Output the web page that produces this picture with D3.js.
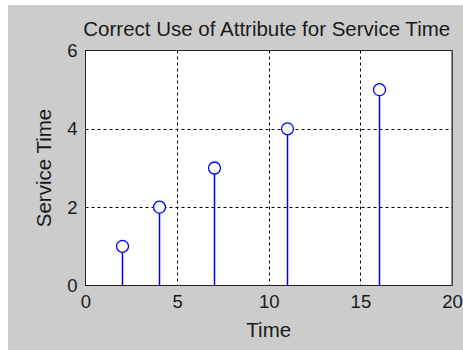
<!DOCTYPE html>
<html>
<head>
<meta charset="utf-8">
<script src="https://cdn.jsdelivr.net/npm/d3@7"></script>
<style>
  html, body { margin: 0; padding: 0; background: #ffffff; }
  svg { display: block; }
  text { font-family: Arial, "Liberation Sans", sans-serif; fill: #1a1a1a; }
</style>
</head>
<body>
<svg id="chart" width="463" height="350"></svg>
<script>
// Stem plot data: service time recorded at each time point
const times = [2, 4, 7, 11, 16];
const serviceTimes = [1, 2, 3, 4, 5];
const xTicks = [0, 5, 10, 15, 20];
const yTicks = [0, 2, 4, 6];
const titleText = "Correct Use of Attribute for Service Time";
const xLabel = "Time";
const yLabel = "Service Time";

const svg = d3.select("#chart");
const FONT = "Arial, 'Liberation Sans', sans-serif";

// figure background
svg.append("rect")
  .attr("x", 8).attr("y", 5)
  .attr("width", 455).attr("height", 345)
  .attr("fill", "#cccccc");

const plot = { left: 85.5, right: 452, top: 50.5, bottom: 285.5 };

const x = d3.scaleLinear().domain([0, 20]).range([plot.left, plot.right]);
const y = d3.scaleLinear().domain([0, 6]).range([plot.bottom, plot.top]);

// axes area
svg.append("rect")
  .attr("x", plot.left).attr("y", plot.top)
  .attr("width", plot.right - plot.left).attr("height", plot.bottom - plot.top)
  .attr("fill", "#ffffff");

// dashed grid
const grid = svg.append("g")
  .attr("stroke", "#000")
  .attr("stroke-width", 1)
  .attr("stroke-dasharray", "3,3");
grid.selectAll(".gx").data(xTicks.slice(1, -1)).join("line")
  .attr("x1", d => Math.round(x(d)) + 0.5).attr("x2", d => Math.round(x(d)) + 0.5)
  .attr("y1", plot.top).attr("y2", plot.bottom);
grid.selectAll(".gy").data(yTicks.slice(1, -1)).join("line")
  .attr("y1", d => Math.round(y(d)) + 0.5).attr("y2", d => Math.round(y(d)) + 0.5)
  .attr("x1", plot.left).attr("x2", plot.right);

// stems and markers
const stems = svg.append("g");
const pts = times.map((t, i) => ({ t, v: serviceTimes[i] }));
stems.selectAll("line").data(pts).join("line")
  .attr("x1", d => Math.round(x(d.t)) + 0.5).attr("x2", d => Math.round(x(d.t)) + 0.5)
  .attr("y1", y(0)).attr("y2", d => y(d.v) + 6)
  .attr("stroke", "#0000ff").attr("stroke-width", 1.5);
stems.selectAll("circle").data(pts).join("circle")
  .attr("cx", d => Math.round(x(d.t)) + 0.5).attr("cy", d => y(d.v))
  .attr("r", 6)
  .attr("fill", "#ffffff")
  .attr("stroke", "#0000ff").attr("stroke-width", 1.3);

// axes: labels only, the box and grid supply the rest
const xAxis = d3.axisBottom(x).tickValues(xTicks).tickSize(0).tickPadding(9).tickFormat(d3.format("d"));
const yAxis = d3.axisLeft(y).tickValues(yTicks).tickSize(0).tickPadding(8).tickFormat(d3.format("d"));

const gx = svg.append("g").attr("transform", `translate(0,${plot.bottom})`).call(xAxis);
gx.select(".domain").remove();
gx.selectAll("text").attr("font-size", 18.5).attr("fill", "#1a1a1a").attr("font-family", FONT);

const gy = svg.append("g").attr("transform", `translate(${plot.left},0)`).call(yAxis);
gy.select(".domain").remove();
gy.selectAll("text").attr("font-size", 18.5).attr("fill", "#1a1a1a").attr("font-family", FONT);

// axes box
svg.append("rect")
  .attr("x", plot.left).attr("y", plot.top)
  .attr("width", plot.right - plot.left).attr("height", plot.bottom - plot.top)
  .attr("fill", "none").attr("stroke", "#222").attr("stroke-width", 1);
svg.append("line")
  .attr("x1", plot.right + 0.5).attr("x2", plot.right + 0.5)
  .attr("y1", plot.top).attr("y2", plot.bottom + 0.5)
  .attr("stroke", "#444").attr("stroke-width", 1);

// title and axis labels
svg.append("text")
  .attr("x", (plot.left + plot.right) / 2 - 2).attr("y", 36)
  .attr("text-anchor", "middle").attr("font-size", 20.5)
  .text(titleText);
svg.append("text")
  .attr("x", (plot.left + plot.right) / 2).attr("y", 337)
  .attr("text-anchor", "middle").attr("font-size", 20.5)
  .text(xLabel);
svg.append("text")
  .attr("transform", `translate(51,${(plot.top + plot.bottom) / 2}) rotate(-90)`)
  .attr("text-anchor", "middle").attr("font-size", 20.5)
  .text(yLabel);
</script>
</body>
</html>
